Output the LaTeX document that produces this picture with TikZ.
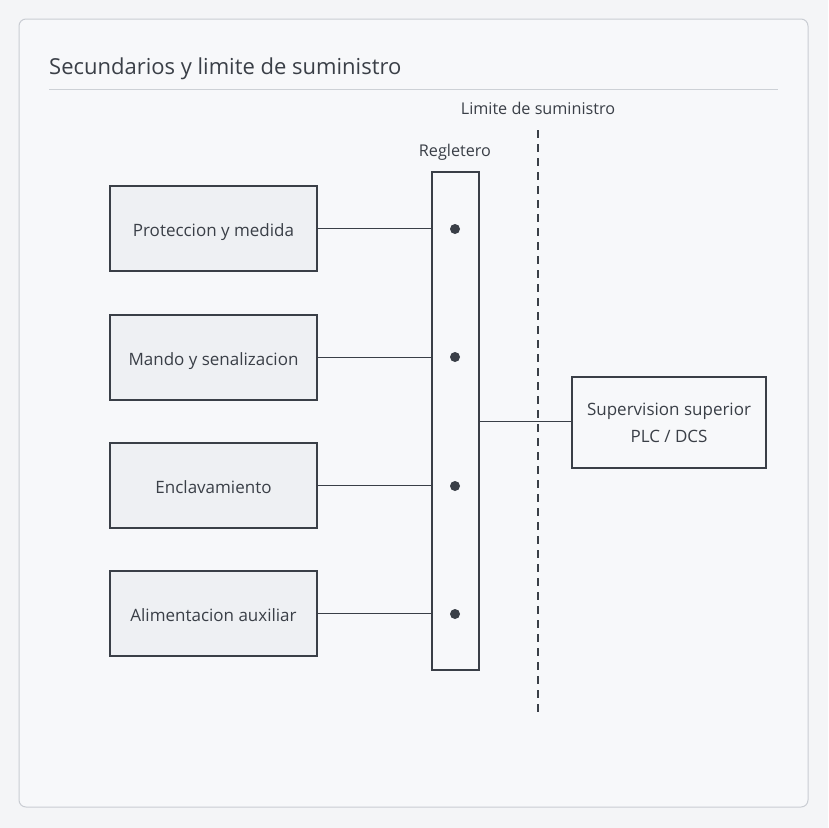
\documentclass[tikz,border=0pt]{standalone}
\usepackage{fontspec}
\setmainfont{Open Sans}
\definecolor{pagebg}{HTML}{F4F5F7}
\definecolor{cardbg}{HTML}{F7F8FA}
\definecolor{cardline}{HTML}{C9CDD3}
\definecolor{ink}{HTML}{3A3F47}
\definecolor{boxfill}{HTML}{EEF0F3}
\definecolor{rulec}{HTML}{CDD1D6}
\tikzset{
  blk/.style={draw=ink, line width=1.3pt, fill=boxfill, minimum width=207pt, minimum height=85pt, inner sep=0pt, text height=16pt, text depth=1pt, font=\fontsize{17}{20}\selectfont, text=ink},
  sup/.style={draw=ink, line width=1.3pt, fill=cardbg, minimum width=194pt, minimum height=91pt, inner sep=0pt, font=\fontsize{17}{27}\selectfont, text=ink, align=center},
  strip/.style={draw=ink, line width=1.3pt, fill=cardbg, minimum width=47pt, minimum height=498pt, inner sep=0pt},
  wire/.style={draw=ink, line width=1.2pt},
  term/.style={circle, fill=ink, minimum size=10pt, inner sep=0pt},
  lbl/.style={font=\fontsize{16.2}{19}\selectfont, text=ink},
}
\begin{document}
\begin{tikzpicture}[x=1pt,y=-1pt]
\useasboundingbox (0,0) rectangle (828,828);
\fill[pagebg] (0,0) rectangle (828,828);
\draw[cardline, fill=cardbg, line width=1pt, rounded corners=7pt] (19,19) rectangle (808,807);
\node[anchor=base west, font=\fontsize{22}{26}\selectfont, text=ink, inner sep=0pt] (title) at (49,74) {Secundarios y limite de suministro};
\draw[rulec, line width=1pt] (49,89) -- (778,89);
\node[lbl] (lim) at (538,108) {Limite de suministro};
\coordinate (dtop) at (538,130);
\coordinate (dbot) at (538,717);
\draw[ink, line width=1.3pt, dash pattern=on 8pt off 6pt] (dtop) -- (dbot);
\node[lbl] (reglab) at (455,152.5) {Regletero};
\node[strip] (reg) at (455.5,421) {};
\node[blk] (b1) at (213.5,228.5) {Proteccion y medida};
\node[blk] (b2) at (213.5,357.5) {Mando y senalizacion};
\node[blk] (b3) at (213.5,485.5) {Enclavamiento};
\node[blk] (b4) at (213.5,613.5) {Alimentacion auxiliar};
\node[term] (t1) at (455,229) {};
\node[term] (t2) at (455,357) {};
\node[term] (t3) at (455,486) {};
\node[term] (t4) at (455,614) {};
\node[sup] (sv) at (669,422.5) {Supervision superior\\PLC / DCS};
\draw[wire] (b1.east) -- (b1.east -| reg.west);
\draw[wire] (b2.east) -- (b2.east -| reg.west);
\draw[wire] (b3.east) -- (b3.east -| reg.west);
\draw[wire] (b4.east) -- (b4.east -| reg.west);
\draw[wire] (reg.east |- 0,421.5) -- (sv.west |- 0,421.5);
\end{tikzpicture}
\end{document}
